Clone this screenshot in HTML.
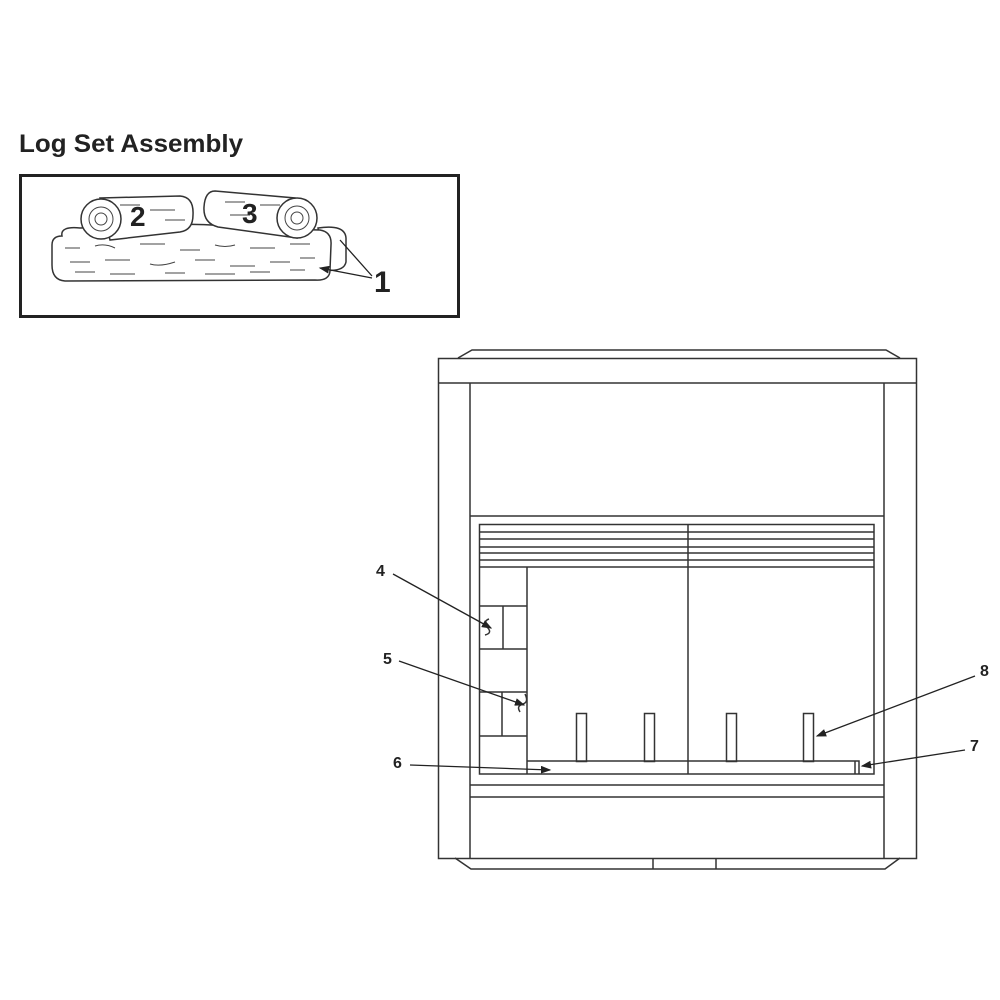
<!DOCTYPE html>
<html><head><style>body{margin:0;background:#fff}svg{display:block}</style></head><body>
<svg width="1000" height="1000" viewBox="0 0 1000 1000" xmlns="http://www.w3.org/2000/svg" font-family="Liberation Sans, sans-serif">
<defs><marker id="a" markerWidth="8" markerHeight="6" refX="7" refY="3" orient="auto"><path d="M0,0L8,3L0,6z" fill="#222"/></marker></defs>
<text x="19" y="152" font-size="25" font-weight="bold" fill="#222" textLength="224" lengthAdjust="spacingAndGlyphs">Log Set Assembly</text>
<rect x="20.5" y="175.5" width="438" height="141" fill="none" stroke="#222" stroke-width="3"/>
<g fill="#fff" stroke="#333" stroke-width="1.5">
<path d="M318,228 Q345,224 346,238 L346,262 Q344,272 325,270 Z"/>
<path d="M62,236 Q60,226 80,228 L160,226 Q200,222 240,228 L320,230 Q332,232 331,245 L330,270 Q330,281 315,280 L65,281 Q52,280 52,265 L52,245 Q52,236 62,236Z"/>
<path d="M100,198 L180,196 Q194,197 193,215 Q193,230 180,232 L110,240 Z"/>
<circle cx="101" cy="219" r="20"/>
<path d="M215,191 L295,198 L297,238 L218,227 Q203,223 204,207 Q205,191 215,191Z"/>
<circle cx="297" cy="218" r="20"/>
</g>
<g fill="none" stroke="#444" stroke-width="1">
<circle cx="101" cy="219" r="12"/><circle cx="101" cy="219" r="6"/><circle cx="297" cy="218" r="12"/><circle cx="297" cy="218" r="6"/>
<path d="M65,248h15M95,246q10,-3 20,2M140,244h25M180,250h20M215,245q10,3 20,0M250,248h25M290,244h20M70,262h20M105,260h25M150,264q10,3 25,-2M195,260h20M230,266h25M270,262h20M300,258h15M75,272h20M110,274h25M165,273h20M205,274h30M250,272h20M290,270h15M120,205h20M150,210h25M165,220h20M225,202h20M260,205h20M230,215h20"/>
</g>
<text x="130" y="226" font-size="28" font-weight="bold" fill="#222">2</text>
<text x="242" y="223" font-size="28" font-weight="bold" fill="#222">3</text>
<text x="374" y="292" font-size="30" font-weight="bold" fill="#222">1</text>
<path d="M372,276L340,240M372,278L320,268" stroke="#222" stroke-width="1.3" marker-end="url(#a)"/>
<g fill="none" stroke="#333" stroke-width="1.5">
<path d="M458,358L472,350H886L900,358"/>
<rect x="438.5" y="358.5" width="478" height="500"/>
<path d="M438,383H917M470,383V858M884,383V858M470,516H884"/>
<rect x="479.5" y="524.5" width="394.5" height="249.5"/>
<path d="M479,532H874M479,539H874M479,547H874M479,553H874M479,560H874M479,567H874M688,524V774"/>
<path d="M527,567V774M479,606H527M479,649H527M479,692H527M479,736H527M503,606V649M502,692V736"/>
<path d="M527,761H859V774M855,761V774"/>
<rect x="576.5" y="713.5" width="10" height="48"/><rect x="644.5" y="713.5" width="10" height="48"/><rect x="726.5" y="713.5" width="10" height="48"/><rect x="803.5" y="713.5" width="10" height="48"/>
<path d="M470,785H884M470,797H884"/>
<path d="M455,858L471,869H885L900,858M653,858V869M716,858V869"/>
<path d="M485,635q8,-2 2,-8q-4,-6 2,-8M520,712q-4,-6 3,-8q6,-2 2,-10"/>
</g>
<g stroke="#222" stroke-width="1.3" fill="none" marker-end="url(#a)">
<path d="M393,574L491,628"/><path d="M399,661L524,705"/><path d="M410,765L550,770"/><path d="M975,676L817,736"/><path d="M965,750L862,766"/>
</g>
<g font-size="16" font-weight="bold" fill="#222">
<text x="376" y="576">4</text><text x="383" y="664">5</text><text x="393" y="768">6</text><text x="980" y="676">8</text><text x="970" y="751">7</text>
</g>
</svg>
</body></html>
